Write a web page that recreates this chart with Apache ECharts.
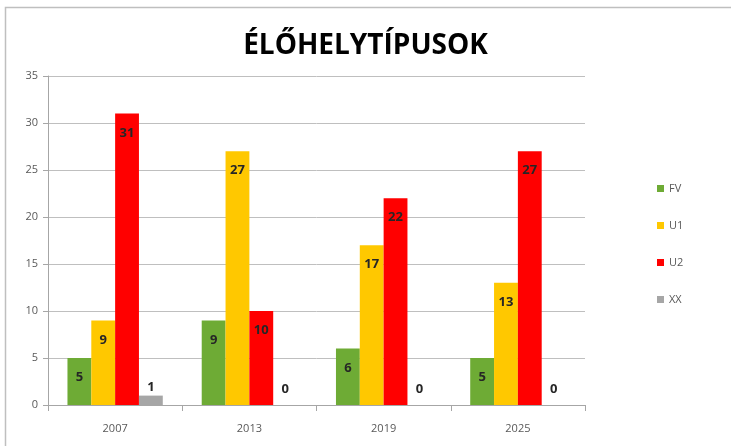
<!DOCTYPE html>
<html><head><meta charset="utf-8">
<script src="https://cdn.jsdelivr.net/npm/echarts@6/dist/echarts.min.js"></script>
<style>html,body{margin:0;padding:0;background:#fff}#c{width:731px;height:446px}</style>
</head><body><div id="c"></div>
<script>
const categories = ['2007', '2013', '2019', '2025'];
const seriesNames = ['FV', 'U1', 'U2', 'XX'];
const fv = [5, 9, 6, 5];
const u1 = [9, 27, 17, 13];
const u2 = [31, 10, 22, 27];
const xx = [1, 0, 0, 0];
const colors = ['#6EAB35', '#FFC800', '#FF0000', '#A6A6A6'];
const values = [fv, u1, u2, xx];

const chart = echarts.init(document.getElementById('c'));
chart.setOption({
  animation: false,
  graphic: [{type: 'rect', shape: {x: 5.5, y: 7.5, width: 740, height: 450}, style: {fill: 'none', stroke: '#bfbfbf', lineWidth: 1.5}}],
  title: {text: 'ÉLŐHELYTÍPUSOK', left: 'center', top: 27,
    textStyle: {fontFamily: 'Open Sans', fontWeight: 'bold', fontSize: 28, color: '#000'}},
  legend: {orient: 'vertical', left: 652, top: 178, itemGap: 26, itemWidth: 7, itemHeight: 7,
    icon: 'rect', textStyle: {color: '#595959', fontSize: 11, fontFamily: 'Open Sans'}, data: seriesNames},
  grid: {left: 48, right: 146, top: 76, bottom: 41, containLabel: false},
  xAxis: {type: 'category', data: categories,
    axisLine: {lineStyle: {color: '#a6a6a6'}},
    axisTick: {show: true, length: 6, lineStyle: {color: '#a6a6a6'}},
    axisLabel: {color: '#595959', fontSize: 11, margin: 18, fontFamily: 'Open Sans'}},
  yAxis: {type: 'value', min: 0, max: 35, interval: 5,
    axisLine: {show: true, lineStyle: {color: '#a6a6a6'}},
    axisTick: {show: true, length: 5, lineStyle: {color: '#a6a6a6'}},
    splitLine: {lineStyle: {color: '#bfbfbf'}},
    axisLabel: {color: '#595959', fontSize: 11, margin: 10, fontFamily: 'Open Sans'}},
  series: seriesNames.map((n, i) => ({
    name: n, type: 'bar', barGap: 0, barCategoryGap: '29%',
    data: values[i].map(v => (i === 3 && v === 0) ? {value: v, label: {distance: 9}} : v),
    itemStyle: {color: colors[i]},
    label: {show: true, position: i === 3 ? 'top' : 'insideTop', distance: i === 3 ? 2 : 13,
      color: '#262626', fontWeight: 'bold', fontSize: 13, fontFamily: 'Open Sans'}
  }))
});
</script></body></html>
